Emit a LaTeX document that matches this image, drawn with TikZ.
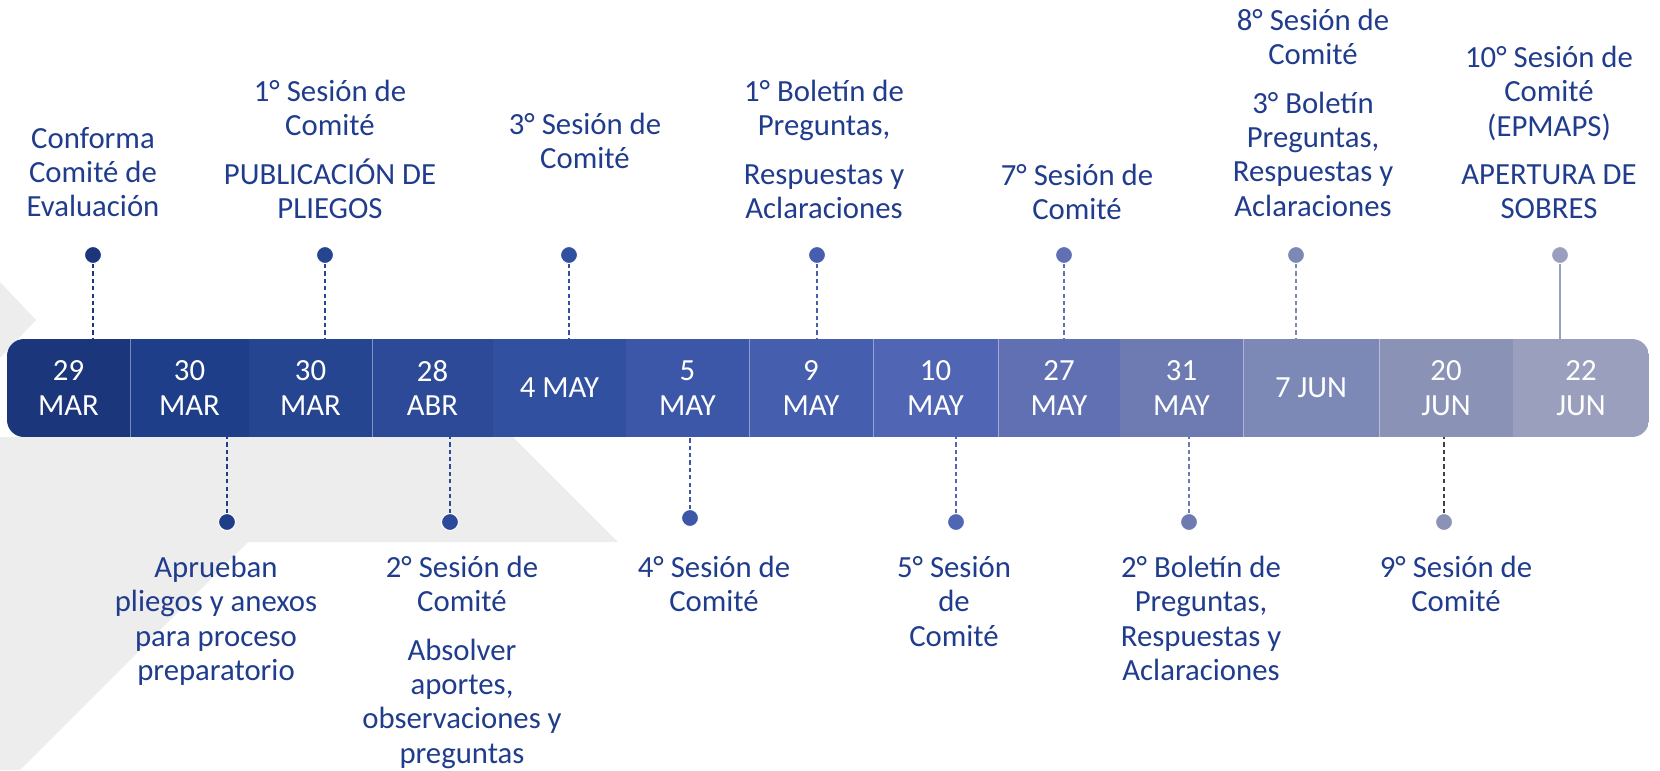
\documentclass[tikz,border=0pt]{standalone}
\usepackage{fontspec}
\setmainfont{Carlito}
\usetikzlibrary{calc}

\definecolor{texto}{HTML}{203C8C}
\definecolor{fondo}{HTML}{EDEDED}
\definecolor{tono1}{HTML}{1B367A}
\definecolor{tono2}{HTML}{1F3E89}
\definecolor{tono3}{HTML}{264591}
\definecolor{tono4}{HTML}{2C4A98}
\definecolor{tono5}{HTML}{3150A0}
\definecolor{tono6}{HTML}{3C57A8}
\definecolor{tono7}{HTML}{455EAE}
\definecolor{tono8}{HTML}{5065B4}
\definecolor{tono9}{HTML}{6170B2}
\definecolor{tono10}{HTML}{6E7BB2}
\definecolor{tono11}{HTML}{7C88B5}
\definecolor{tono12}{HTML}{8A92B6}
\definecolor{tono13}{HTML}{9B9FBE}

\newcommand{\fecha}{\fontsize{17.5}{19.5}\selectfont}
\newcommand{\rotulo}{\fontsize{17.5}{19.5}\selectfont}

\begin{document}
\begin{tikzpicture}[x=0.2mm, y=-0.2mm,
    seg/.style={rectangle, inner sep=0pt, minimum height=19.6mm, text=white, align=center, font=\fecha},
    punto/.style={circle, inner sep=0pt, minimum size=3.4mm, draw=white, line width=0.6pt},
    guia/.style={dash pattern=on 2.4pt off 1.8pt, line width=0.7pt},
    etiqueta/.style={anchor=north, inner sep=0pt, align=center, text=texto, font=\rotulo}]
    \useasboundingbox (0,0) rectangle (1660,770);
    % Fondo gris
    \fill[fondo] (0,282) -- (36,320) -- (0,358) -- cycle;
    \fill[fondo] (0,437) -- (513,437) -- (618,542) -- (248,542) -- (20,770) -- (0,770) -- cycle;
    % Barra de fechas
    \begin{scope}
        \clip[rounded corners=3.4mm] (7,339) rectangle (1649,437);
        \foreach \a/\b/\t [count=\i] in {7/130/{29\\MAR}, 130/249/{30\\MAR}, 249/372/{30\\MAR},
            372/493/{28\\ABR}, 493/626/{4 MAY}, 626/749/{5\\MAY}, 749/873/{9\\MAY},
            873/998/{10\\MAY}, 998/1120/{27\\MAY}, 1120/1243/{31\\MAY}, 1243/1379/{7 JUN},
            1379/1513/{20\\JUN}, 1513/1649/{22\\JUN}} {
            \node[seg, fill=tono\i, minimum width={(\b-\a)*0.2mm}] (s\i) at ({(\a+\b)/2},388) {\t};
        }
    \end{scope}
    % Separadores
    \foreach \i in {1,3,6,7,8,10,11} {
        \draw[white, opacity=0.4, line width=0.5pt] (s\i.north east) -- (s\i.south east);
    }
    % Puntos arriba y abajo
    \foreach \i/\x in {1/93, 3/325, 5/569, 7/817, 9/1064, 11/1296, 13/1560} {
        \node[punto, fill=tono\i] (p\i) at (\x,255) {};
    }
    \foreach \i/\x/\y in {2/227/522, 4/450/522, 6/690/518, 8/956/522, 10/1189/522, 12/1444/522} {
        \node[punto, fill=tono\i] (p\i) at (\x,\y) {};
    }
    % Guias
    \foreach \i in {1,3,5,7,9,11} {
        \draw[guia, tono\i] (p\i) -- (p\i |- s\i.north);
    }
    \draw[tono13, line width=0.7pt] (p13) -- (p13 |- s13.north);
    \foreach \i in {2,4,6,8,10} {
        \draw[guia, tono\i] (p\i) -- (p\i |- s\i.south);
    }
    \draw[guia, black!75] (p12) -- (p12 |- s12.south);
    % Etiquetas
    \node[etiqueta] (e1) at (93,127) {Conforma\\Comité de\\Evaluación};
    \node[etiqueta] (e3) at (330,80) {1° Sesión de\\Comité\\[8pt]PUBLICACIÓN DE\\PLIEGOS};
    \node[etiqueta] (e5) at (585,113) {3° Sesión de\\Comité};
    \node[etiqueta] (e7) at (824,80) {1° Boletín de\\Preguntas,\\[8pt]Respuestas y\\Aclaraciones};
    \node[etiqueta] (e9) at (1077,164) {7° Sesión de\\Comité};
    \node[etiqueta] (e11) at (1313,9) {8° Sesión de\\Comité\\[8pt]3° Boletín\\Preguntas,\\Respuestas y\\Aclaraciones};
    \node[etiqueta] (e13) at (1549,46) {10° Sesión de\\Comité\\(EPMAPS)\\[8pt]APERTURA DE\\SOBRES};
    \node[etiqueta] (e2) at (216,556) {Aprueban\\pliegos y anexos\\para proceso\\preparatorio};
    \node[etiqueta] (e4) at (462,556) {2° Sesión de\\Comité\\[8pt]Absolver\\aportes,\\observaciones y\\preguntas};
    \node[etiqueta] (e6) at (714,556) {4° Sesión de\\Comité};
    \node[etiqueta] (e8) at (954,556) {5° Sesión\\de\\Comité};
    \node[etiqueta] (e10) at (1201,556) {2° Boletín de\\Preguntas,\\Respuestas y\\Aclaraciones};
    \node[etiqueta] (e12) at (1456,556) {9° Sesión de\\Comité};
\end{tikzpicture}
\end{document}
